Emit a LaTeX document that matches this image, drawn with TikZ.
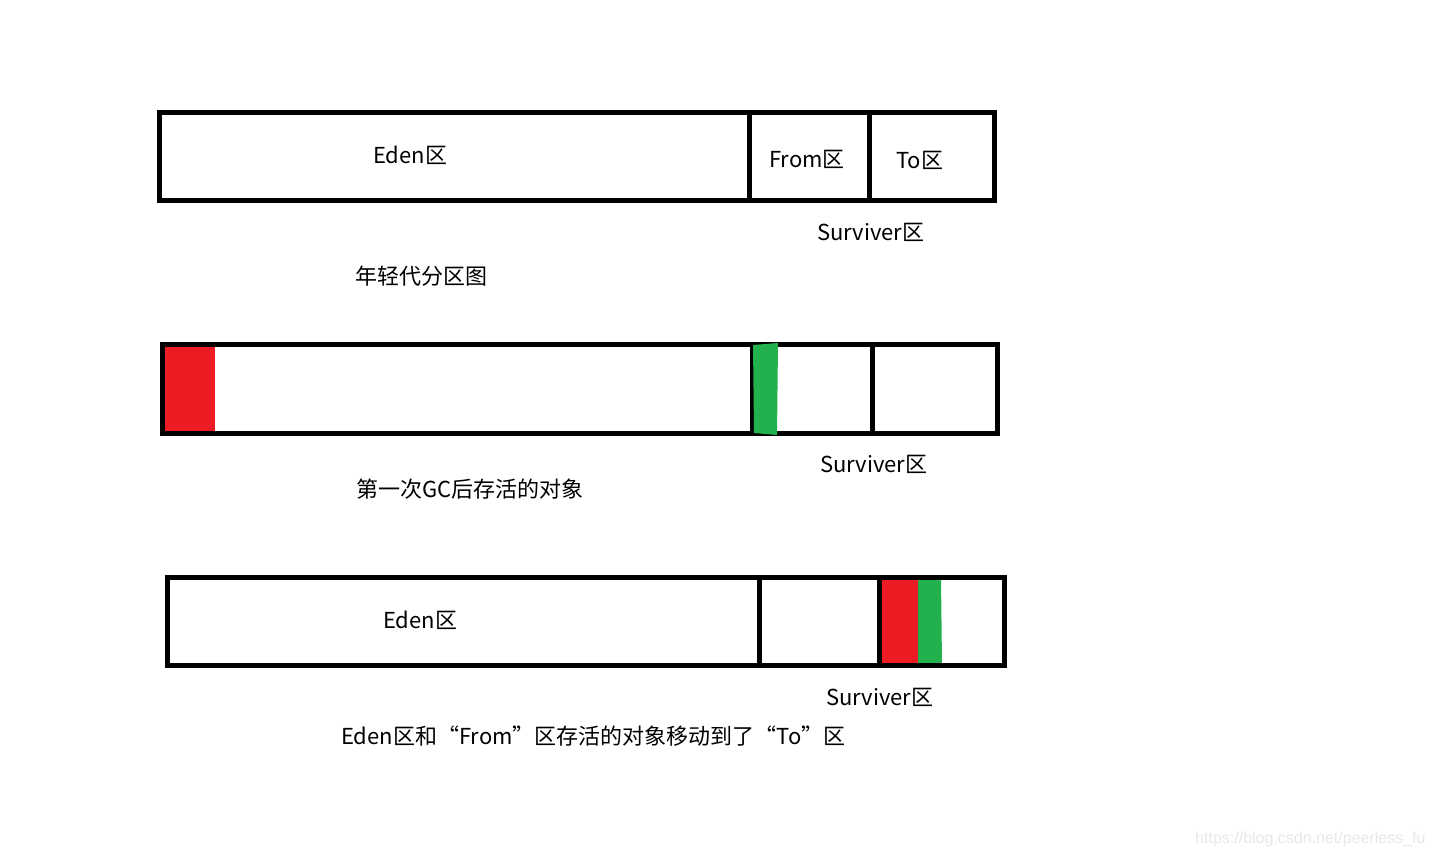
\documentclass[tikz,border=0pt]{standalone}
\usepackage{fontspec}
\setmainfont{Noto Sans CJK SC}
\newfontfamily\wmfont{Liberation Sans}
\definecolor{pred}{HTML}{ED1C24}
\definecolor{pgreen}{HTML}{22B14C}
\definecolor{wm}{HTML}{E8E8E8}
\begin{document}
\begin{tikzpicture}[x=1pt,y=-1pt,
  frame/.style={draw=black,line width=5pt},
  lbl/.style={anchor=west,inner sep=0pt,font=\fontsize{22}{26}\selectfont},
  wmark/.style={anchor=west,inner sep=0pt,text=wm,font=\fontsize{16}{19}\selectfont\wmfont}]
\useasboundingbox[fill=white] (0,0) rectangle (1431,858);
% ---- panel 1
\draw[frame] (159.5,112.5) rectangle (994.5,200.5);
\draw[frame] (749.5,112.5) -- (749.5,200.5);
\draw[frame] (869.5,112.5) -- (869.5,200.5);
\node[lbl] (eden1) at (373,155) {Eden区};
\node[lbl] (from1) at (769,159) {From区};
\node[lbl] (to1) at (896,160) {To区};
\node[lbl] (surv1) at (817,232) {Surviver区};
\node[lbl] (cap1) at (355,276) {年轻代分区图};
% ---- panel 2
\fill[pred] (164,346) rectangle (215,432);
\draw[frame] (162.5,344.5) rectangle (997.5,433.5);
\draw[frame] (752.5,344.5) -- (752.5,433.5);
\draw[frame] (872.5,344.5) -- (872.5,433.5);
\fill[pgreen] (753,345) -- (778,343) -- (777,435) -- (754,433) -- cycle;
\node[lbl] (surv2) at (820,464) {Surviver区};
\node[lbl] (cap2) at (356,489) {第一次GC后存活的对象};
% ---- panel 3
\fill[pred] (881,578) rectangle (919,665);
\fill[pgreen] (918,578) -- (941,578) -- (942,666) -- (918,665) -- cycle;
\draw[frame] (167.5,577.5) rectangle (1004.5,665.5);
\draw[frame] (759,577.5) -- (759,665.5);
\draw[frame] (879.5,577.5) -- (879.5,665.5);
\node[lbl] (eden3) at (383,620) {Eden区};
\node[lbl] (surv3) at (826,697) {Surviver区};
\node[lbl] (cap3) at (341,736) {Eden区和“From”区存活的对象移动到了“To”区};
% ---- watermark
\node[wmark] (wmk) at (1195,839) {https://blog.csdn.net/peerless\_fu};
\end{tikzpicture}
\end{document}
